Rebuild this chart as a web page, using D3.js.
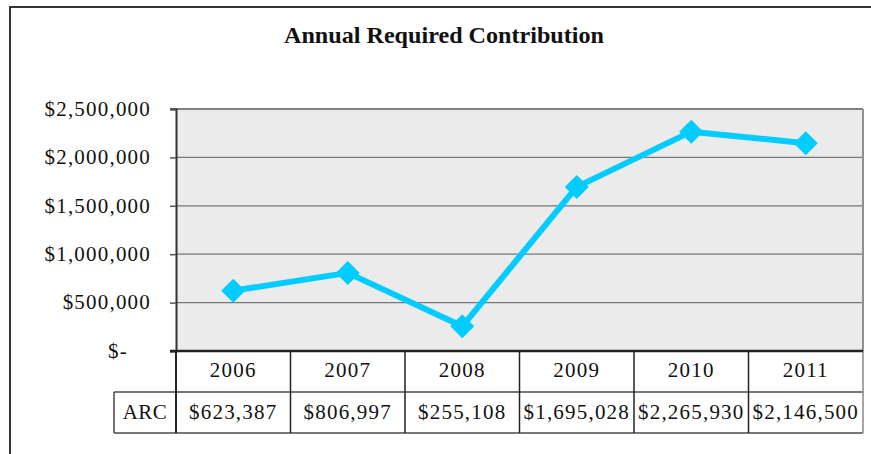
<!DOCTYPE html>
<html>
<head>
<meta charset="utf-8">
<script src="https://cdn.jsdelivr.net/npm/d3@7"></script>
<style>
body { margin: 0; background: #fff; }
svg { display: block; }
text { font-family: "Liberation Serif", "Times New Roman", serif; fill: #111; }
</style>
</head>
<body>
<svg width="871" height="454"></svg>
<script>
var years = ["2006", "2007", "2008", "2009", "2010", "2011"];
var arc = [623387, 806997, 255108, 1695028, 2265930, 2146500];
var yTicks = [0, 500000, 1000000, 1500000, 2000000, 2500000];
var seriesName = "ARC";
var title = "Annual Required Contribution";

var svg = d3.select("svg");

var plotL = 176, plotR = 863, plotT = 109, plotB = 351;
var rowH = 41;

var x = d3.scaleBand().domain(years).range([plotL, plotR]);
var y = d3.scaleLinear().domain([0, 2500000]).range([plotB, plotT]);

var fmt = d3.format(",");
function money(v) { return v === 0 ? "$-" : "$" + fmt(v); }

// outer frame (runs off the page on the right and bottom)
svg.append("rect")
    .attr("x", 10).attr("y", 7)
    .attr("width", 1000).attr("height", 600)
    .attr("fill", "none")
    .attr("stroke", "#333")
    .attr("stroke-width", 2);

// title
svg.append("text")
    .attr("x", 444)
    .attr("y", 43)
    .attr("text-anchor", "middle")
    .attr("textLength", 320)
    .attr("lengthAdjust", "spacingAndGlyphs")
    .style("font-size", "23px")
    .style("font-weight", "bold")
    .text(title);

// plot background
svg.append("rect")
    .attr("x", plotL).attr("y", plotT)
    .attr("width", plotR - plotL).attr("height", plotB - plotT)
    .attr("fill", "#ebebeb");

// gridlines
svg.append("g")
    .selectAll("line")
    .data(yTicks.filter(function(d) { return d > 0 && d < 2500000; }))
    .enter()
    .append("line")
    .attr("x1", plotL).attr("x2", plotR)
    .attr("y1", function(d) { return y(d); })
    .attr("y2", function(d) { return y(d); })
    .attr("stroke", "#777")
    .attr("stroke-width", 1.2);

// plot border top / right
svg.append("line")
    .attr("x1", plotL - 6).attr("x2", plotR)
    .attr("y1", plotT).attr("y2", plotT)
    .attr("stroke", "#808080").attr("stroke-width", 2);
svg.append("line")
    .attr("x1", plotR).attr("x2", plotR)
    .attr("y1", plotT).attr("y2", plotB)
    .attr("stroke", "#909090").attr("stroke-width", 2);

// y axis
var yAxis = svg.append("g")
    .attr("transform", "translate(" + plotL + ",0)")
    .call(d3.axisLeft(y).tickValues(yTicks).tickSize(6).tickPadding(20).tickFormat(money));
yAxis.select(".domain").attr("stroke", "#333").attr("stroke-width", 2);
yAxis.selectAll(".tick line").attr("stroke", "#555").attr("stroke-width", 1.5);
yAxis.selectAll(".tick text")
    .attr("fill", "#111")
    .style("font-family", "Liberation Serif")
    .style("font-size", "21px")
    .style("letter-spacing", "1.2px")
    .attr("dy", "0.3em")
    .attr("x", function(d) { return d === 0 ? -48 : -25; });

// table text is clipped at the plot's right edge
svg.append("clipPath").attr("id", "tclip")
    .append("rect").attr("x", 0).attr("y", 0).attr("width", plotR).attr("height", 454);

// table grid
var tbl = svg.append("g");
tbl.append("line")
    .attr("x1", plotL - 62).attr("x2", plotR)
    .attr("y1", plotB + rowH).attr("y2", plotB + rowH)
    .attr("stroke", "#777").attr("stroke-width", 2);
tbl.append("line")
    .attr("x1", plotL - 62).attr("x2", plotR)
    .attr("y1", plotB + 2 * rowH).attr("y2", plotB + 2 * rowH)
    .attr("stroke", "#777").attr("stroke-width", 2);
tbl.append("line")
    .attr("x1", plotL - 62).attr("x2", plotL - 62)
    .attr("y1", plotB + rowH).attr("y2", plotB + 2 * rowH)
    .attr("stroke", "#444").attr("stroke-width", 1.5);
tbl.selectAll("line.col")
    .data(years.concat(["end"]))
    .enter()
    .append("line")
    .attr("class", "col")
    .attr("x1", function(d, i) { return plotL + i * x.bandwidth(); })
    .attr("x2", function(d, i) { return plotL + i * x.bandwidth(); })
    .attr("y1", plotB).attr("y2", plotB + 2 * rowH)
    .attr("stroke", function(d, i) { return i === years.length ? "#888" : "#222"; })
    .attr("stroke-width", function(d, i) { return i === 0 ? 2 : 1.5; });

// x axis line
svg.append("line")
    .attr("x1", plotL - 6).attr("x2", plotR)
    .attr("y1", plotB).attr("y2", plotB)
    .attr("stroke", "#222").attr("stroke-width", 2.5);

// header years
tbl.selectAll("text.yr")
    .data(years)
    .enter()
    .append("text")
    .attr("class", "yr")
    .attr("x", function(d) { return x(d) + x.bandwidth() / 2; })
    .attr("y", plotB + 26)
    .attr("text-anchor", "middle")
    .style("font-size", "21px")
    .style("letter-spacing", "1.2px")
    .text(function(d) { return d; });

// series label + values
tbl.append("text")
    .attr("x", plotL - 31)
    .attr("y", plotB + rowH + 27)
    .attr("text-anchor", "middle")
    .style("font-size", "21px")
    .style("letter-spacing", "0.5px")
    .text(seriesName);

tbl.append("g").attr("clip-path", "url(#tclip)")
    .selectAll("text")
    .data(arc)
    .enter()
    .append("text")
    .attr("x", function(d, i) { return x(years[i]) + x.bandwidth() / 2; })
    .attr("y", plotB + rowH + 27)
    .attr("text-anchor", "middle")
    .style("font-size", "21px")
    .style("letter-spacing", "1.2px")
    .text(function(d) { return money(d); });

// line series
var line = d3.line()
    .x(function(d, i) { return x(years[i]) + x.bandwidth() / 2; })
    .y(function(d) { return y(d); });

svg.append("path")
    .datum(arc)
    .attr("d", line)
    .attr("fill", "none")
    .attr("stroke", "#00ccff")
    .attr("stroke-width", 6)
    .attr("stroke-linejoin", "round");

svg.append("g")
    .selectAll("path")
    .data(arc)
    .enter()
    .append("path")
    .attr("transform", function(d, i) {
        return "translate(" + (x(years[i]) + x.bandwidth() / 2) + "," + y(d) + ")";
    })
    .attr("d", "M0,-12L12,0L0,12L-12,0Z")
    .attr("fill", "#00ccff");
</script>
</body>
</html>
